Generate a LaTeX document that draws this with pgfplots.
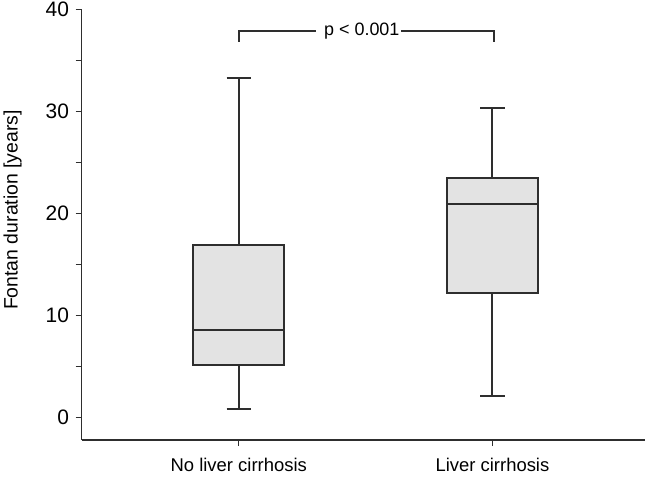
\documentclass[border=0pt]{standalone}
\usepackage{fontspec}
\setmainfont{Liberation Sans}
\usepackage{pgfplots}
\pgfplotsset{compat=1.18}
\usepgfplotslibrary{statistics}
\definecolor{ln}{HTML}{2E2E2E}
\definecolor{bx}{HTML}{E3E3E3}
\begin{document}
\begin{tikzpicture}
\begin{axis}[
 scale only axis, width=563bp, height=430.7bp,
 xmin=-0.619, xmax=1.6, ymin=-2.2, ymax=40,
 axis x line*=bottom, axis y line*=left,
 axis line style={ln, line width=1.6bp, -},
 xtick={0,1}, xticklabels={No liver cirrhosis, Liver cirrhosis},
 ytick={0,10,20,30,40}, minor ytick={5,15,25,35},
 tick align=outside, major tick length=6bp, minor tick length=6bp,
 tick style={ln, line width=1.4bp},
 every tick label/.append style={text=black},
 xticklabel style={yshift=-9bp, font=\fontsize{18.5}{20}\selectfont},
 yticklabel style={font=\fontsize{21}{22}\selectfont, inner sep=0pt, xshift=-6.5bp},
 /pgf/number format/assume math mode=true,
 ylabel={Fontan duration [years]},
 every axis y label/.style={at={(rel axis cs:0,0.534)}, rotate=90, anchor=center, yshift=69bp, font=\fontsize{19.5}{21}\selectfont},
 clip=false,
 boxplot/draw direction=y,
]
\coordinate (bl) at (rel axis cs:0,0);
\coordinate (tr) at (rel axis cs:1,1);
\addplot[draw=ln, fill=bx, line width=2bp, solid, mark=none,
  boxplot prepared={lower whisker=0.88, lower quartile=5.13, median=8.56,
  upper quartile=16.9, upper whisker=33.3, draw position=0,
  box extend=0.36, whisker extend=0.095}] coordinates {};
\addplot[draw=ln, fill=bx, line width=2bp, solid, mark=none,
  boxplot prepared={lower whisker=2.09, lower quartile=12.2, median=20.9,
  upper quartile=23.5, upper whisker=30.3, draw position=1,
  box extend=0.36, whisker extend=0.095}] coordinates {};
\addplot[draw=ln, line width=1.6bp, mark=none] coordinates {(0,36.8) (0,37.9) (0.303,37.9)};
\addplot[draw=ln, line width=1.6bp, mark=none] coordinates {(0.64,37.9) (1.005,37.9) (1.005,36.8)};
\node[font=\fontsize{18}{20}\selectfont] at (axis cs:0.485,37.9) {p < 0.001};
\end{axis}
\pgfresetboundingbox
\path[use as bounding box] ([xshift=-81.7bp,yshift=-37bp]bl) rectangle ([xshift=1.3bp,yshift=9.3bp]tr);
\end{tikzpicture}
\end{document}
